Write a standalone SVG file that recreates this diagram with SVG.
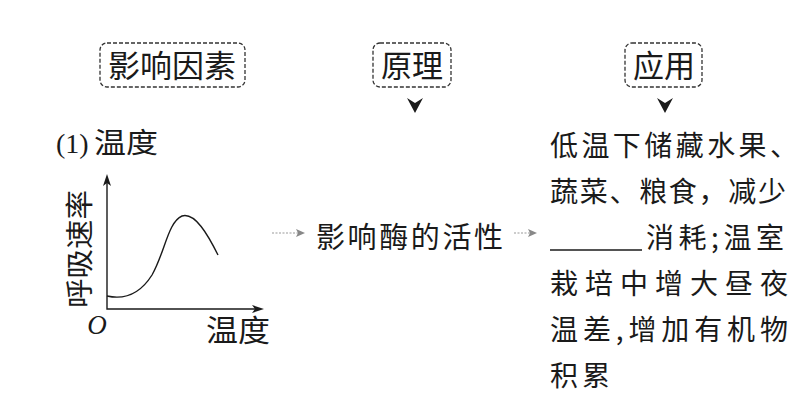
<svg xmlns="http://www.w3.org/2000/svg" width="808" height="401" viewBox="0 0 808 401">
<style>
.t{font-family:"Noto Sans CJK SC","Noto Sans",sans-serif;fill:#1a1a1a}
.box{fill:none;stroke:#333;stroke-width:1.3;stroke-dasharray:4 2}
.ln{fill:none;stroke:#1a1a1a;stroke-width:1.4}
.ah{fill:#1a1a1a}
.da{fill:none;stroke:#999;stroke-width:1.2;stroke-dasharray:2 1.5}
</style>
<rect width="808" height="401" fill="#fff"/>
<g id="head-factors">
<rect class="box" x="100" y="43" width="145" height="44" rx="7"/>
<text class="t" x="172" y="77" font-size="31" text-anchor="middle" textLength="128" lengthAdjust="spacingAndGlyphs">影响因素</text>
</g>
<g id="head-principle">
<rect class="box" x="373" y="43" width="78" height="44" rx="7"/>
<text class="t" x="412" y="77" font-size="31" text-anchor="middle">原理</text>
</g>
<g id="head-application">
<rect class="box" x="625" y="43" width="77" height="44" rx="7"/>
<text class="t" x="664" y="77" font-size="31" text-anchor="middle">应用</text>
</g>
<g id="factor-temp">
<text x="56" y="153" font-family="Liberation Serif,serif" font-size="28" fill="#1a1a1a">(1)</text>
<text class="t" x="94" y="153" font-size="28" textLength="64" lengthAdjust="spacingAndGlyphs">温度</text>
<path class="ln" d="M107 180 V309 H258"/>
<path class="ah" d="M107 174 L111 186 L107 183 L103 186 Z"/>
<path class="ah" d="M264 309 L252 305 L255 309 L252 313 Z"/>
<path class="ln" d="M107 296 C125 300 140 294 152 275 C165 252 168 222 182 216 C195 212 208 235 218 255"/>
<text class="t" transform="translate(90 249) rotate(-90)" font-size="28" text-anchor="middle" textLength="118" lengthAdjust="spacingAndGlyphs">呼吸速率</text>
<text x="97" y="334" font-family="Liberation Serif,serif" font-style="italic" font-size="27" fill="#1a1a1a" text-anchor="middle">O</text>
<text class="t" x="206" y="341" font-size="30" textLength="64" lengthAdjust="spacingAndGlyphs">温度</text>
</g>
<g id="principle">
<text class="t" x="316" y="248" font-size="29" textLength="187" lengthAdjust="spacing">影响酶的活性</text>
</g>
<g id="application">
<text class="t" x="550" y="156" font-size="28" textLength="248" lengthAdjust="spacing">低温下储藏水果、</text>
<text class="t" x="550" y="202" font-size="28" textLength="236" lengthAdjust="spacing">蔬菜、粮食，减少</text>
<line x1="550" y1="250" x2="642" y2="250" stroke="#1a1a1a" stroke-width="1.5"/>
<text class="t" x="646" y="248" font-size="28" textLength="138" lengthAdjust="spacing">消耗;温室</text>
<text class="t" x="550" y="294" font-size="28" textLength="238" lengthAdjust="spacing">栽培中增大昼夜</text>
<text class="t" x="550" y="340" font-size="28" textLength="238" lengthAdjust="spacing">温差,增加有机物</text>
<text class="t" x="550" y="386" font-size="28" textLength="60" lengthAdjust="spacing">积累</text>
</g>
<g id="connectors">
<path class="ah" d="M407 98 L415 113 L423 98 L415 103 Z"/>
<path class="ah" d="M657 98 L665 113 L673 98 L665 103 Z"/>
<path class="da" d="M272 233 H300"/>
<path d="M305 233 L296 229 L298 233 L296 237 Z" fill="#888"/>
<path class="da" d="M514 233 H532"/>
<path d="M537 233 L528 229 L530 233 L528 237 Z" fill="#888"/>
</g>
</svg>
